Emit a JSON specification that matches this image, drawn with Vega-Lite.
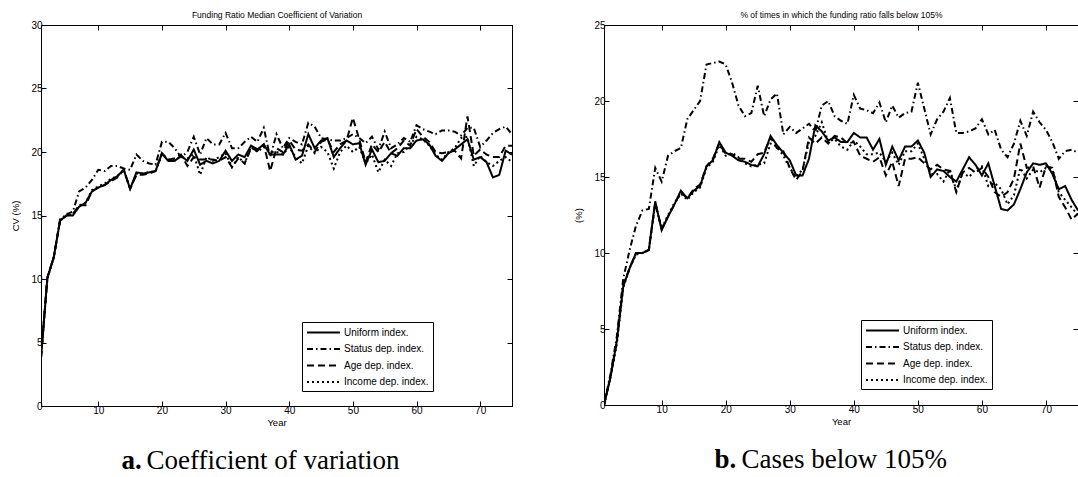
{
  "$schema": "https://vega.github.io/schema/vega-lite/v6.json",
  "background": "white",
  "padding": {"left": 10, "top": 10, "right": 0, "bottom": 0},
  "spacing": 57,
  "config": {
    "view": {"stroke": "black", "strokeWidth": 1},
    "font": "Liberation Sans",
    "axis": {"domainColor": "black", "tickColor": "black", "labelColor": "black", "titleColor": "black", "grid": false, "labelFont": "Liberation Sans", "labelFontSize": 10, "titleFont": "Liberation Sans", "titleFontSize": 9.5, "titleFontWeight": "normal", "tickSize": -5, "labelPadding": 4},
    "legend": {"strokeColor": "black", "strokeWidth": 1, "fillColor": "white", "padding": 4, "symbolType": "M-3,0H3", "symbolSize": 121, "symbolOffset": 11, "labelOffset": 14, "symbolStrokeWidth": 2, "symbolStrokeColor": "black", "labelFont": "Liberation Sans", "labelFontSize": 10, "labelColor": "black", "rowPadding": 4.5}
  },
  "datasets": {
    "cv": [
      {"year":1,"uniform":3.8,"status":3.8,"age":3.8,"income":3.8},
      {"year":2,"uniform":10.1,"status":10.1,"age":10.1,"income":10.0},
      {"year":3,"uniform":11.7,"status":11.7,"age":11.7,"income":11.7},
      {"year":4,"uniform":14.6,"status":14.7,"age":14.6,"income":14.6},
      {"year":5,"uniform":15.0,"status":15.1,"age":15.0,"income":15.0},
      {"year":6,"uniform":15.0,"status":15.3,"age":15.1,"income":15.1},
      {"year":7,"uniform":15.7,"status":16.9,"age":15.8,"income":15.8},
      {"year":8,"uniform":16.0,"status":17.2,"age":15.8,"income":16.0},
      {"year":9,"uniform":16.9,"status":17.8,"age":16.9,"income":17.0},
      {"year":10,"uniform":17.2,"status":18.6,"age":17.2,"income":17.3},
      {"year":11,"uniform":17.4,"status":18.5,"age":17.4,"income":17.5},
      {"year":12,"uniform":17.8,"status":18.9,"age":17.7,"income":17.9},
      {"year":13,"uniform":18.1,"status":18.9,"age":18.0,"income":18.1},
      {"year":14,"uniform":18.6,"status":18.7,"age":18.6,"income":18.6},
      {"year":15,"uniform":17.1,"status":18.6,"age":17.1,"income":17.1},
      {"year":16,"uniform":18.4,"status":19.8,"age":18.2,"income":18.3},
      {"year":17,"uniform":18.3,"status":19.3,"age":18.2,"income":18.3},
      {"year":18,"uniform":18.4,"status":19.1,"age":18.3,"income":18.4},
      {"year":19,"uniform":18.5,"status":19.0,"age":18.5,"income":18.5},
      {"year":20,"uniform":19.9,"status":20.8,"age":19.9,"income":19.8},
      {"year":21,"uniform":19.3,"status":20.8,"age":19.4,"income":19.4},
      {"year":22,"uniform":19.3,"status":20.3,"age":19.5,"income":19.4},
      {"year":23,"uniform":19.7,"status":19.6,"age":19.8,"income":19.6},
      {"year":24,"uniform":19.3,"status":20.0,"age":18.9,"income":19.5},
      {"year":25,"uniform":20.2,"status":21.2,"age":19.6,"income":19.8},
      {"year":26,"uniform":19.0,"status":19.8,"age":19.4,"income":18.2},
      {"year":27,"uniform":19.3,"status":21.1,"age":19.4,"income":19.6},
      {"year":28,"uniform":19.1,"status":20.6,"age":19.4,"income":19.3},
      {"year":29,"uniform":19.3,"status":20.6,"age":19.3,"income":19.6},
      {"year":30,"uniform":20.1,"status":21.5,"age":19.6,"income":19.9},
      {"year":31,"uniform":19.3,"status":20.3,"age":18.8,"income":18.8},
      {"year":32,"uniform":19.8,"status":20.3,"age":19.5,"income":19.6},
      {"year":33,"uniform":19.6,"status":20.8,"age":19.1,"income":19.1},
      {"year":34,"uniform":20.5,"status":21.2,"age":20.3,"income":20.4},
      {"year":35,"uniform":20.2,"status":20.8,"age":20.1,"income":20.0},
      {"year":36,"uniform":20.6,"status":21.9,"age":20.6,"income":20.4},
      {"year":37,"uniform":19.8,"status":19.6,"age":18.5,"income":20.0},
      {"year":38,"uniform":19.8,"status":21.4,"age":20.3,"income":20.0},
      {"year":39,"uniform":19.8,"status":20.3,"age":20.0,"income":19.8},
      {"year":40,"uniform":20.6,"status":21.1,"age":20.9,"income":20.4},
      {"year":41,"uniform":19.4,"status":20.8,"age":20.2,"income":19.6},
      {"year":42,"uniform":19.7,"status":20.6,"age":20.1,"income":19.1},
      {"year":43,"uniform":21.4,"status":22.3,"age":20.6,"income":20.5},
      {"year":44,"uniform":20.3,"status":22.0,"age":20.0,"income":19.9},
      {"year":45,"uniform":20.9,"status":21.1,"age":20.8,"income":20.4},
      {"year":46,"uniform":21.1,"status":21.0,"age":21.0,"income":20.0},
      {"year":47,"uniform":19.6,"status":20.9,"age":20.0,"income":18.7},
      {"year":48,"uniform":20.3,"status":20.9,"age":20.6,"income":20.0},
      {"year":49,"uniform":20.9,"status":21.1,"age":20.9,"income":20.5},
      {"year":50,"uniform":20.6,"status":21.4,"age":22.7,"income":20.0},
      {"year":51,"uniform":20.7,"status":21.1,"age":21.0,"income":20.4},
      {"year":52,"uniform":19.0,"status":20.7,"age":19.2,"income":19.1},
      {"year":53,"uniform":20.2,"status":21.2,"age":20.6,"income":19.8},
      {"year":54,"uniform":19.2,"status":20.2,"age":20.0,"income":18.4},
      {"year":55,"uniform":19.3,"status":21.6,"age":20.8,"income":19.4},
      {"year":56,"uniform":19.9,"status":20.3,"age":19.9,"income":18.9},
      {"year":57,"uniform":19.7,"status":20.6,"age":20.3,"income":19.9},
      {"year":58,"uniform":20.3,"status":21.1,"age":20.9,"income":20.0},
      {"year":59,"uniform":20.3,"status":20.8,"age":20.5,"income":20.6},
      {"year":60,"uniform":20.9,"status":22.1,"age":21.8,"income":21.2},
      {"year":61,"uniform":21.0,"status":21.8,"age":21.2,"income":21.0},
      {"year":62,"uniform":20.6,"status":21.6,"age":20.8,"income":20.5},
      {"year":63,"uniform":19.7,"status":21.4,"age":20.0,"income":19.8},
      {"year":64,"uniform":19.3,"status":21.7,"age":19.9,"income":19.4},
      {"year":65,"uniform":19.9,"status":21.7,"age":20.0,"income":20.0},
      {"year":66,"uniform":20.2,"status":21.6,"age":20.1,"income":20.3},
      {"year":67,"uniform":20.6,"status":21.3,"age":19.5,"income":21.1},
      {"year":68,"uniform":21.0,"status":21.9,"age":22.8,"income":21.2},
      {"year":69,"uniform":19.4,"status":21.9,"age":19.7,"income":18.9},
      {"year":70,"uniform":19.6,"status":20.4,"age":20.2,"income":19.7},
      {"year":71,"uniform":19.2,"status":20.9,"age":19.8,"income":19.2},
      {"year":72,"uniform":18.0,"status":21.5,"age":19.6,"income":18.9},
      {"year":73,"uniform":18.2,"status":21.8,"age":19.6,"income":19.3},
      {"year":74,"uniform":20.1,"status":22.0,"age":20.5,"income":19.6},
      {"year":75,"uniform":19.8,"status":21.4,"age":20.5,"income":19.2}
    ],
    "below": [
      {"year":1,"uniform":0,"status":0,"age":0,"income":0},
      {"year":2,"uniform":1.8,"status":2.0,"age":1.8,"income":1.8},
      {"year":3,"uniform":4.2,"status":4.5,"age":4.2,"income":4.0},
      {"year":4,"uniform":7.8,"status":8.3,"age":7.9,"income":7.7},
      {"year":5,"uniform":9.0,"status":10.2,"age":9.0,"income":9.0},
      {"year":6,"uniform":10.0,"status":11.8,"age":10.0,"income":9.9},
      {"year":7,"uniform":10.0,"status":12.8,"age":10.0,"income":10.0},
      {"year":8,"uniform":10.2,"status":12.9,"age":10.2,"income":10.2},
      {"year":9,"uniform":13.4,"status":15.6,"age":13.3,"income":13.2},
      {"year":10,"uniform":11.5,"status":14.7,"age":11.6,"income":11.6},
      {"year":11,"uniform":12.4,"status":16.4,"age":12.4,"income":12.5},
      {"year":12,"uniform":13.2,"status":16.7,"age":13.2,"income":13.3},
      {"year":13,"uniform":14.1,"status":16.9,"age":14.0,"income":13.9},
      {"year":14,"uniform":13.6,"status":18.8,"age":13.6,"income":13.5},
      {"year":15,"uniform":14.1,"status":19.4,"age":14.2,"income":14.0},
      {"year":16,"uniform":14.4,"status":20.0,"age":14.5,"income":14.3},
      {"year":17,"uniform":15.7,"status":22.4,"age":15.7,"income":15.6},
      {"year":18,"uniform":16.1,"status":22.5,"age":16.2,"income":16.0},
      {"year":19,"uniform":17.3,"status":22.6,"age":17.2,"income":17.1},
      {"year":20,"uniform":16.6,"status":22.4,"age":16.5,"income":16.4},
      {"year":21,"uniform":16.4,"status":21.2,"age":16.5,"income":16.6},
      {"year":22,"uniform":16.1,"status":19.7,"age":16.2,"income":16.3},
      {"year":23,"uniform":16.0,"status":19.0,"age":16.2,"income":15.9},
      {"year":24,"uniform":15.8,"status":19.2,"age":16.0,"income":15.7},
      {"year":25,"uniform":15.7,"status":21.0,"age":16.5,"income":15.8},
      {"year":26,"uniform":16.5,"status":19.0,"age":16.6,"income":15.9},
      {"year":27,"uniform":17.7,"status":20.1,"age":17.6,"income":17.2},
      {"year":28,"uniform":17.1,"status":20.5,"age":16.9,"income":17.0},
      {"year":29,"uniform":16.6,"status":17.8,"age":16.7,"income":16.4},
      {"year":30,"uniform":16.1,"status":18.3,"age":15.6,"income":15.6},
      {"year":31,"uniform":15.1,"status":17.9,"age":14.8,"income":15.0},
      {"year":32,"uniform":15.1,"status":18.2,"age":15.4,"income":15.5},
      {"year":33,"uniform":16.2,"status":18.5,"age":17.6,"income":17.3},
      {"year":34,"uniform":18.4,"status":18.0,"age":17.2,"income":17.7},
      {"year":35,"uniform":18.0,"status":19.7,"age":17.6,"income":18.6},
      {"year":36,"uniform":17.4,"status":20.0,"age":17.2,"income":17.3},
      {"year":37,"uniform":17.6,"status":19.0,"age":17.7,"income":17.5},
      {"year":38,"uniform":17.3,"status":18.7,"age":17.6,"income":17.0},
      {"year":39,"uniform":17.3,"status":18.5,"age":17.2,"income":16.8},
      {"year":40,"uniform":17.9,"status":20.4,"age":17.3,"income":17.4},
      {"year":41,"uniform":17.6,"status":19.5,"age":16.4,"income":17.0},
      {"year":42,"uniform":17.6,"status":19.4,"age":16.2,"income":16.5},
      {"year":43,"uniform":16.8,"status":19.2,"age":16.0,"income":16.5},
      {"year":44,"uniform":17.5,"status":19.9,"age":16.3,"income":16.6},
      {"year":45,"uniform":15.8,"status":18.6,"age":15.1,"income":16.0},
      {"year":46,"uniform":17.0,"status":19.7,"age":16.0,"income":16.6},
      {"year":47,"uniform":16.1,"status":18.9,"age":14.4,"income":15.8},
      {"year":48,"uniform":17.0,"status":19.2,"age":16.2,"income":16.7},
      {"year":49,"uniform":17.0,"status":19.3,"age":16.2,"income":16.7},
      {"year":50,"uniform":17.4,"status":21.2,"age":16.3,"income":17.2},
      {"year":51,"uniform":16.6,"status":19.5,"age":15.9,"income":16.2},
      {"year":52,"uniform":15.0,"status":17.8,"age":15.5,"income":15.2},
      {"year":53,"uniform":15.5,"status":18.8,"age":15.8,"income":15.2},
      {"year":54,"uniform":15.4,"status":19.3,"age":15.5,"income":14.7},
      {"year":55,"uniform":15.0,"status":20.2,"age":15.4,"income":15.5},
      {"year":56,"uniform":14.7,"status":17.9,"age":14.0,"income":14.1},
      {"year":57,"uniform":15.5,"status":17.9,"age":15.3,"income":15.3},
      {"year":58,"uniform":16.3,"status":18.0,"age":15.6,"income":15.0},
      {"year":59,"uniform":15.8,"status":18.2,"age":15.3,"income":15.5},
      {"year":60,"uniform":15.1,"status":18.8,"age":15.6,"income":15.7},
      {"year":61,"uniform":15.9,"status":17.8,"age":15.0,"income":14.4},
      {"year":62,"uniform":14.4,"status":18.1,"age":14.0,"income":14.6},
      {"year":63,"uniform":12.9,"status":16.8,"age":13.7,"income":14.2},
      {"year":64,"uniform":12.8,"status":16.3,"age":14.0,"income":13.2},
      {"year":65,"uniform":13.2,"status":17.2,"age":14.9,"income":13.8},
      {"year":66,"uniform":14.2,"status":18.7,"age":17.2,"income":15.6},
      {"year":67,"uniform":15.3,"status":17.7,"age":15.6,"income":14.9},
      {"year":68,"uniform":15.9,"status":19.3,"age":15.7,"income":15.5},
      {"year":69,"uniform":15.8,"status":18.6,"age":14.3,"income":15.3},
      {"year":70,"uniform":15.9,"status":18.1,"age":15.7,"income":15.6},
      {"year":71,"uniform":15.2,"status":17.3,"age":15.6,"income":15.5},
      {"year":72,"uniform":14.2,"status":16.2,"age":13.7,"income":14.0},
      {"year":73,"uniform":14.4,"status":16.7,"age":13.0,"income":13.5},
      {"year":74,"uniform":13.5,"status":16.8,"age":12.2,"income":13.0},
      {"year":75,"uniform":12.8,"status":16.6,"age":12.6,"income":12.5}
    ]
  },
  "hconcat": [
    {
      "width": 471,
      "height": 381,
      "data": {"name": "cv"},
      "transform": [{"fold": ["uniform", "status", "age", "income"], "as": ["series", "value"]}],
      "layer": [
        {
          "mark": {"type": "line", "color": "black", "strokeWidth": 2, "clip": true},
          "encoding": {
            "x": {"field": "year", "type": "quantitative", "scale": {"domain": [1, 75], "nice": false}, "axis": {"orient": "bottom", "title": "Year", "values": [10, 20, 30, 40, 50, 60, 70], "titlePadding": 2}},
            "y": {"field": "value", "type": "quantitative", "scale": {"domain": [0, 30], "nice": false}, "axis": {"orient": "left", "title": "CV  (%)", "values": [0, 5, 10, 15, 20, 25, 30], "titlePadding": 10}},
            "strokeDash": {"field": "series", "type": "nominal", "scale": {"domain": ["uniform", "status", "age", "income"], "range": [[1, 0], [6, 3, 1.5, 3], [7, 4], [2, 3]]},
              "legend": {"title": null, "orient": "none", "legendX": 261, "legendY": 297, "labelExpr": "{'uniform': 'Uniform index.', 'status': 'Status dep. index.', 'age': 'Age dep. index.', 'income': 'Income dep. index.'}[datum.label]"}}
          }
        },
        {
          "mark": {"type": "point", "opacity": 0},
          "encoding": {
            "x": {"field": "year", "type": "quantitative", "scale": {"domain": [1, 75], "nice": false}, "axis": {"orient": "top", "title": "Funding Ratio Median Coefficient of Variation", "titleFontSize": 8.5, "labels": false, "values": [10, 20, 30, 40, 50, 60, 70], "titlePadding": 5}},
            "y": {"field": "value", "type": "quantitative", "scale": {"domain": [0, 30], "nice": false}, "axis": {"orient": "right", "title": null, "labels": false, "values": [0, 5, 10, 15, 20, 25, 30]}}
          }
        },
        {
          "mark": {"type": "point", "opacity": 0},
          "encoding": {
            "x": {"field": "year", "type": "quantitative", "scale": {"domain": [1, 75], "nice": false}, "axis": {"orient": "bottom", "offset": 41, "domain": false, "ticks": false, "labels": false, "title": "a.", "titleFont": "Liberation Serif", "titleFontSize": 27, "titleFontWeight": "bold", "titleAlign": "left", "titleX": 80, "titlePadding": 0}},
            "y": {"field": "value", "type": "quantitative", "axis": null}
          }
        },
        {
          "mark": {"type": "point", "opacity": 0},
          "encoding": {
            "x": {"field": "year", "type": "quantitative", "scale": {"domain": [1, 75], "nice": false}, "axis": {"orient": "bottom", "offset": 41, "domain": false, "ticks": false, "labels": false, "title": "Coefficient of variation", "titleFont": "Liberation Serif", "titleFontSize": 27, "titleFontWeight": "normal", "titleAlign": "left", "titleX": 105, "titlePadding": 0}},
            "y": {"field": "value", "type": "quantitative", "axis": null}
          }
        }
      ],
      "resolve": {"axis": {"x": "independent", "y": "independent"}}
    },
    {
      "width": 474,
      "height": 380,
      "data": {"name": "below"},
      "transform": [{"fold": ["uniform", "status", "age", "income"], "as": ["series", "value"]}],
      "layer": [
        {
          "mark": {"type": "line", "color": "black", "strokeWidth": 2, "clip": true},
          "encoding": {
            "x": {"field": "year", "type": "quantitative", "scale": {"domain": [1, 75], "nice": false}, "axis": {"orient": "bottom", "title": "Year", "values": [10, 20, 30, 40, 50, 60, 70], "titlePadding": 2}},
            "y": {"field": "value", "type": "quantitative", "scale": {"domain": [0, 25], "nice": false}, "axis": {"orient": "left", "title": "(%)", "values": [0, 5, 10, 15, 20, 25], "titlePadding": 10}},
            "strokeDash": {"field": "series", "type": "nominal", "scale": {"domain": ["uniform", "status", "age", "income"], "range": [[1, 0], [6, 3, 1.5, 3], [7, 4], [2, 3]]},
              "legend": {"title": null, "orient": "none", "legendX": 257, "legendY": 295, "labelExpr": "{'uniform': 'Uniform index.', 'status': 'Status dep. index.', 'age': 'Age dep. index.', 'income': 'Income dep. index.'}[datum.label]"}}
          }
        },
        {
          "mark": {"type": "point", "opacity": 0},
          "encoding": {
            "x": {"field": "year", "type": "quantitative", "scale": {"domain": [1, 75], "nice": false}, "axis": {"orient": "top", "title": "% of times in which the funding ratio falls below 105%", "titleFontSize": 8.5, "labels": false, "values": [10, 20, 30, 40, 50, 60, 70], "titlePadding": 5}},
            "y": {"field": "value", "type": "quantitative", "scale": {"domain": [0, 25], "nice": false}, "axis": {"orient": "right", "title": null, "labels": false, "values": [0, 5, 10, 15, 20, 25]}}
          }
        },
        {
          "mark": {"type": "point", "opacity": 0},
          "encoding": {
            "x": {"field": "year", "type": "quantitative", "scale": {"domain": [1, 75], "nice": false}, "axis": {"orient": "bottom", "offset": 41, "domain": false, "ticks": false, "labels": false, "title": "b.", "titleFont": "Liberation Serif", "titleFontSize": 27, "titleFontWeight": "bold", "titleAlign": "left", "titleX": 110, "titlePadding": 0}},
            "y": {"field": "value", "type": "quantitative", "axis": null}
          }
        },
        {
          "mark": {"type": "point", "opacity": 0},
          "encoding": {
            "x": {"field": "year", "type": "quantitative", "scale": {"domain": [1, 75], "nice": false}, "axis": {"orient": "bottom", "offset": 41, "domain": false, "ticks": false, "labels": false, "title": "Cases below 105%", "titleFont": "Liberation Serif", "titleFontSize": 27, "titleFontWeight": "normal", "titleAlign": "left", "titleX": 137, "titlePadding": 0}},
            "y": {"field": "value", "type": "quantitative", "axis": null}
          }
        }
      ],
      "resolve": {"axis": {"x": "independent", "y": "independent"}}
    }
  ],
  "resolve": {"legend": {"strokeDash": "independent"}}
}
